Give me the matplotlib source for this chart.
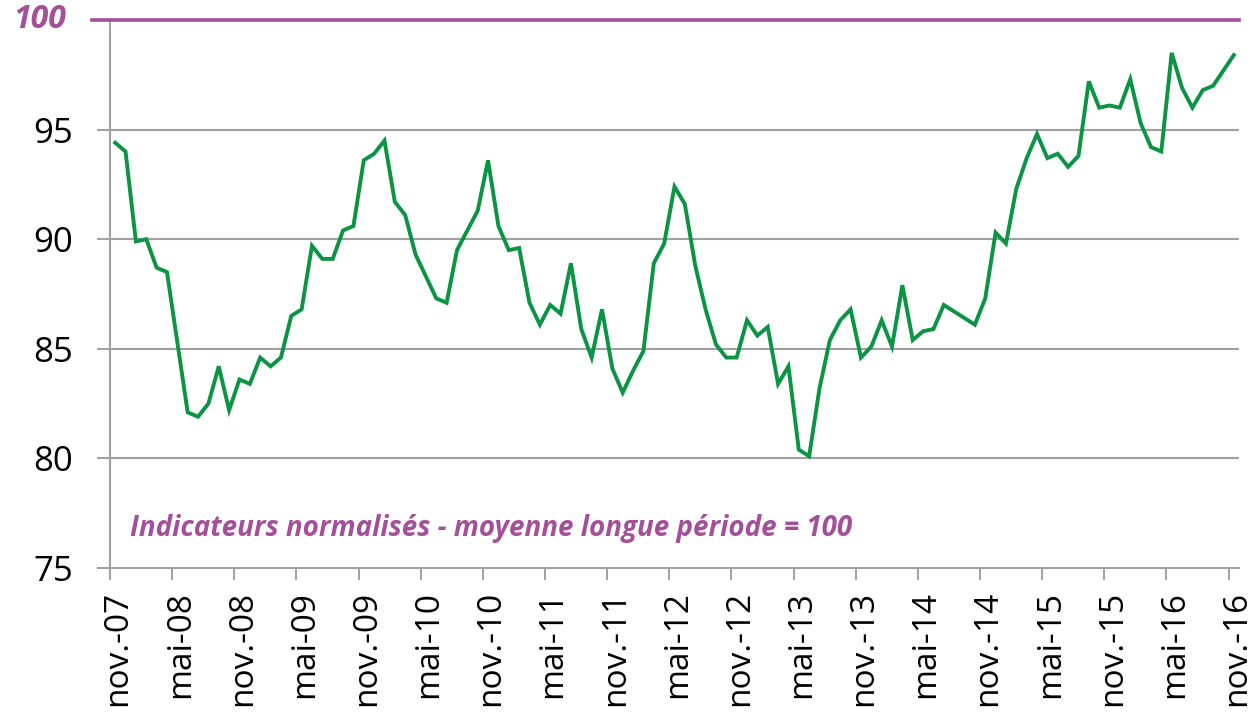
import matplotlib.pyplot as plt
import matplotlib.transforms as mtransforms
import numpy as np

# monthly indicator, nov.-07 to nov.-16 (long-period average = 100)
values = [94.4, 94.0, 89.9, 90.0, 88.7, 88.5, 85.3, 82.1, 81.9, 82.5,
          84.2, 82.2, 83.6, 83.4, 84.6, 84.2, 84.6, 86.5, 86.8, 89.7,
          89.1, 89.1, 90.4, 90.6, 93.6, 93.9, 94.5, 91.7, 91.1, 89.3,
          88.3, 87.3, 87.1, 89.5, 90.4, 91.3, 93.6, 90.6, 89.5, 89.6,
          87.1, 86.1, 87.0, 86.6, 88.9, 85.9, 84.6, 86.8, 84.1, 83.0,
          84.0, 84.9, 88.9, 89.8, 92.4, 91.6, 88.8, 86.8, 85.2, 84.6,
          84.6, 86.3, 85.6, 86.0, 83.4, 84.2, 80.4, 80.1, 83.2, 85.4,
          86.3, 86.8, 84.6, 85.1, 86.3, 85.1, 87.9, 85.4, 85.8, 85.9,
          87.0, 86.7, 86.4, 86.1, 87.3, 90.3, 89.8, 92.3, 93.7, 94.8,
          93.7, 93.9, 93.3, 93.8, 97.2, 96.0, 96.1, 96.0, 97.3, 95.3,
          94.2, 94.0, 98.5, 96.9, 96.0, 96.8, 97.0, 97.7, 98.4]

tick_labels = ['nov.-07', 'mai-08', 'nov.-08', 'mai-09', 'nov.-09', 'mai-10',
               'nov.-10', 'mai-11', 'nov.-11', 'mai-12', 'nov.-12', 'mai-13',
               'nov.-13', 'mai-14', 'nov.-14', 'mai-15', 'nov.-15', 'mai-16',
               'nov.-16']
y_ticks = [75, 80, 85, 90, 95]
reference = 100
note = 'Indicateurs normalisés - moyenne longue période = 100'

green = '#0a9444'
purple = '#a44f9a'
grey = '#a0a0a0'

plt.rcParams['font.family'] = ['Open Sans', 'DejaVu Sans']

fig = plt.figure(figsize=(12.54, 7.18), dpi=100)
ax = fig.add_axes([110/1254, 1 - 568/718, 1129/1254, 548/718])

n = len(values)
x = np.arange(n) + 0.5
ax.plot(x, values, color=green, lw=2.8, solid_joinstyle='miter', zorder=3)

ax.set_xlim(0, n)
ax.set_ylim(75, 100)

# grid
for v in y_ticks[1:]:
    ax.axhline(v, color=grey, lw=1.5, zorder=1)

# reference line at 100, sticking out to the left
ax.plot([-18/1129, 1], [1, 1], transform=ax.transAxes, color=purple,
        lw=2.6, clip_on=False, zorder=4)
ax.text(-44/1129, reference, str(reference), transform=ax.get_yaxis_transform(),
        ha='right', va='center', color=purple, fontsize=23,
        fontweight='bold', fontstyle='italic')

ax.set_yticks(y_ticks)
ax.set_yticklabels([str(v) for v in y_ticks])
ax.set_xticks(np.arange(0, n, 6))
ax.set_xticklabels(tick_labels, rotation=90)

ax.tick_params(axis='y', direction='out', length=9.4, width=1.4,
               color=grey, labelsize=25, pad=17)
ax.tick_params(axis='x', direction='out', length=8.6, width=1.4,
               color=grey, labelsize=24, pad=8)

# labels sit a bit right of their tick
shift = mtransforms.ScaledTranslation(8/100, 0, fig.dpi_scale_trans)
for lab in ax.get_xticklabels():
    lab.set_transform(lab.get_transform() + shift)

for s in ['top', 'right']:
    ax.spines[s].set_visible(False)
for s in ['left', 'bottom']:
    ax.spines[s].set_color(grey)
    ax.spines[s].set_linewidth(1.5)

ax.text(1.9, 76.8, note, color=purple, fontsize=20, fontweight='bold',
        fontstyle='italic', va='center', ha='left')

fig.savefig('out.png', dpi=100)
